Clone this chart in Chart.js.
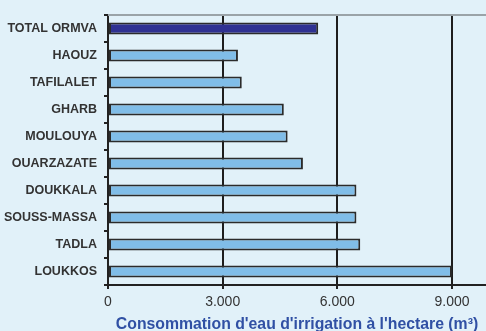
<!DOCTYPE html>
<html>
<head>
<meta charset="utf-8">
<script src="https://cdn.jsdelivr.net/npm/chart.js@4"></script>
<style>
  html, body { margin: 0; padding: 0; background: #e1f1f9; }
  #wrap { width: 486px; height: 331px; }
</style>
</head>
<body>
<div id="wrap"><canvas id="waterChart"></canvas></div>
<script>
// Consommation d'eau d'irrigation par ORMVA (m3/ha)
const regions = ['TOTAL ORMVA', 'HAOUZ', 'TAFILALET', 'GHARB', 'MOULOUYA',
  'OUARZAZATE', 'DOUKKALA', 'SOUSS-MASSA', 'TADLA', 'LOUKKOS'];
const consumption = [5500, 3400, 3500, 4600, 4700, 5100, 6500, 6500, 6600, 9000];
const xTicks = [0, 3000, 6000, 9000];

function barFill(c) {
  const el = c.element;
  const dark = c.dataIndex === 0;
  if (!el || !isFinite(el.y) || !el.height) return dark ? '#2f3192' : '#80bde8';
  const g = c.chart.ctx.createLinearGradient(0, el.y - el.height / 2, 0, el.y + el.height / 2);
  if (dark) {
    g.addColorStop(0, '#3a3fa6');
    g.addColorStop(1, '#2a2c88');
  } else {
    g.addColorStop(0, '#b3dbf5');
    g.addColorStop(0.45, '#86c2ea');
    g.addColorStop(1, '#6eb0e0');
  }
  return g;
}

// grey line along the top of the plot
const topLine = {
  id: 'topLine',
  afterDatasetsDraw(chart) {
    const { ctx, chartArea } = chart;
    ctx.save();
    ctx.strokeStyle = '#9aa3a8';
    ctx.lineWidth = 2;
    ctx.beginPath();
    ctx.moveTo(chartArea.left, chartArea.top);
    ctx.lineTo(chartArea.right, chartArea.top);
    ctx.stroke();
    ctx.restore();
  }
};

new Chart(document.getElementById('waterChart'), {
  type: 'bar',
  data: {
    labels: regions,
    datasets: [{
      data: consumption,
      backgroundColor: barFill,
      borderColor: '#2b2b2b',
      borderWidth: 2,
      borderSkipped: false,
      barPercentage: 0.44,
      categoryPercentage: 1
    }]
  },
  options: {
    indexAxis: 'y',
    responsive: true,
    maintainAspectRatio: false,
    animation: false,
    layout: { padding: { top: 15, left: 0, right: 0, bottom: 0 } },
    plugins: { legend: { display: false }, tooltip: { enabled: false } },
    scales: {
      x: {
        min: 0,
        max: 9890,
        afterBuildTicks: s => { s.ticks = xTicks.map(v => ({ value: v })); },
        afterFit: s => { s.height = 46; },
        grid: { color: '#1e1e1e', lineWidth: 2, tickLength: 4, tickColor: '#222' },
        border: { color: '#222', width: 2 },
        ticks: {
          color: '#333',
          padding: 5,
          maxRotation: 0,
          font: { family: '"Liberation Sans Narrow", "Liberation Sans", Arial', size: 14 },
          callback: v => v.toLocaleString('en-US').replace(/,/g, '.')
        },
        title: {
          display: true,
          text: "Consommation d'eau d'irrigation à l'hectare (m³)",
          color: '#3050a4',
          padding: { top: 0, bottom: -3 },
          font: { family: '"Liberation Sans", Arial', size: 15.8, weight: 'bold' }
        }
      },
      y: {
        afterFit: s => { s.width = 108; },
        grid: { drawOnChartArea: false, offset: true, tickLength: 4, color: '#222', lineWidth: 2 },
        border: { color: '#222', width: 2 },
        ticks: {
          color: '#333',
          padding: 7,
          font: { family: '"Liberation Sans", Arial', size: 12.5, weight: 'bold' }
        }
      }
    }
  },
  plugins: [topLine]
});
</script>
</body>
</html>
